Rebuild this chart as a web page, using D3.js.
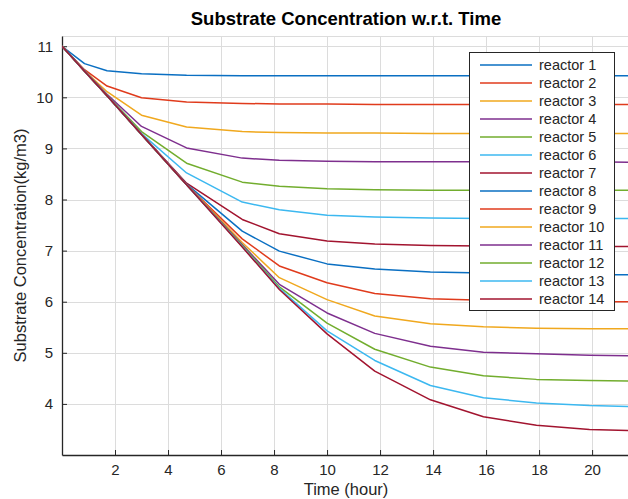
<!DOCTYPE html>
<html>
<head>
<meta charset="utf-8">
<script src="https://d3js.org/d3.v7.min.js"></script>
<style>
    body { margin: 0; background: #ffffff; }
    svg { display: block; font-family: "Liberation Sans", Arial, sans-serif; }
</style>
</head>
<body>
<script>
/**
 * Substrate concentration of 14 reactors over time, drawn as line chart.
 */

// time points (hour)
let times = [0, 0.85, 1.7, 3.0, 4.7, 6.8, 8.2, 10, 11.8, 13.9, 15.9, 17.9, 19.9, 21.43];

// substrate concentration (kg/m3) per reactor
let reactor1  = [11, 10.66, 10.52, 10.46, 10.43, 10.42, 10.42, 10.42, 10.42, 10.42, 10.42, 10.42, 10.42, 10.42];
let reactor2  = [11, 10.54, 10.22, 9.99, 9.91, 9.88, 9.87, 9.87, 9.86, 9.86, 9.86, 9.86, 9.86, 9.86];
let reactor3  = [11, 10.52, 10.11, 9.65, 9.42, 9.33, 9.31, 9.30, 9.30, 9.29, 9.29, 9.29, 9.29, 9.29];
let reactor4  = [11, 10.52, 10.06, 9.43, 9.01, 8.81, 8.77, 8.75, 8.74, 8.74, 8.74, 8.74, 8.74, 8.73];
let reactor5  = [11, 10.52, 10.04, 9.33, 8.71, 8.34, 8.26, 8.21, 8.19, 8.18, 8.18, 8.18, 8.18, 8.18];
let reactor6  = [11, 10.52, 10.03, 9.29, 8.52, 7.95, 7.80, 7.69, 7.66, 7.64, 7.63, 7.63, 7.63, 7.63];
let reactor7  = [11, 10.52, 10.03, 9.28, 8.32, 7.61, 7.33, 7.19, 7.13, 7.10, 7.09, 7.08, 7.08, 7.08];
let reactor8  = [11, 10.51, 10.03, 9.27, 8.30, 7.38, 6.99, 6.74, 6.64, 6.58, 6.56, 6.54, 6.53, 6.53];
let reactor9  = [11, 10.51, 10.03, 9.27, 8.29, 7.23, 6.70, 6.37, 6.16, 6.06, 6.03, 6.01, 6.00, 6.00];
let reactor10 = [11, 10.51, 10.03, 9.27, 8.29, 7.16, 6.47, 6.04, 5.72, 5.57, 5.51, 5.48, 5.47, 5.47];
let reactor11 = [11, 10.51, 10.03, 9.27, 8.29, 7.12, 6.34, 5.78, 5.38, 5.13, 5.01, 4.98, 4.95, 4.94];
let reactor12 = [11, 10.51, 10.03, 9.27, 8.29, 7.10, 6.29, 5.58, 5.07, 4.72, 4.55, 4.48, 4.46, 4.45];
let reactor13 = [11, 10.51, 10.03, 9.27, 8.29, 7.08, 6.26, 5.43, 4.85, 4.36, 4.12, 4.02, 3.97, 3.95];
let reactor14 = [11, 10.51, 10.03, 9.27, 8.29, 7.07, 6.24, 5.37, 4.64, 4.08, 3.75, 3.58, 3.50, 3.48];

let seriesValues = [reactor1, reactor2, reactor3, reactor4, reactor5, reactor6, reactor7,
                    reactor8, reactor9, reactor10, reactor11, reactor12, reactor13, reactor14];
let seriesNames = seriesValues.map((d, i) => "reactor " + (i + 1));

// axis ticks
let xTicks = [2, 4, 6, 8, 10, 12, 14, 16, 18, 20];
let yTicks = [4, 5, 6, 7, 8, 9, 10, 11];

// MATLAB default line colours, repeated after seven
let colors = ["#0a6fc2", "#e03b1c", "#f0a81e", "#7e2f8e", "#72ad2e", "#3cb8f0", "#a2142f"];


window.onload = function() {
    main();
};


/**
 * Sets dimensions and draws the chart.
 */
function main() {
    let dims = {w: 628, h: 499, left: 62, right: 630, top: 36, bottom: 455};

    let svg = d3.select("body")
                .append("svg")
                .attr("width", dims.w)
                .attr("height", dims.h);

    let x = d3.scaleLinear()
              .domain([0, 21.43])
              .range([dims.left, dims.right]);
    let y = d3.scaleLinear()
              .domain([3, 11.2])
              .range([dims.bottom, dims.top]);

    drawAxes(svg, x, y, dims);
    drawLines(svg, x, y, dims);
    drawLegend(svg);
}


/**
 * Draws grid, axes, tick labels, axis titles and chart title.
 */
function drawAxes(svg, x, y, dims) {
    let grid = svg.append("g").attr("stroke", "#dcdcdc").attr("stroke-width", 1);

    grid.selectAll(".vx")
        .data(xTicks)
        .enter()
        .append("line")
        .attr("x1", d => Math.round(x(d)) + 0.5)
        .attr("x2", d => Math.round(x(d)) + 0.5)
        .attr("y1", dims.top)
        .attr("y2", dims.bottom);

    grid.selectAll(".hy")
        .data(yTicks)
        .enter()
        .append("line")
        .attr("x1", dims.left)
        .attr("x2", dims.right)
        .attr("y1", d => Math.round(y(d)) + 0.5)
        .attr("y2", d => Math.round(y(d)) + 0.5);

    // faint top border
    grid.append("line")
        .attr("x1", dims.left).attr("x2", dims.right)
        .attr("y1", dims.top + 0.5).attr("y2", dims.top + 0.5);

    // bottom axis, ticks pointing inward
    let xAxis = d3.axisBottom(x)
                  .tickValues(xTicks)
                  .tickSizeInner(-5)
                  .tickSizeOuter(0)
                  .tickPadding(9)
                  .tickFormat(d3.format("d"));
    let gx = svg.append("g")
                .attr("transform", "translate(0," + dims.bottom + ")")
                .call(xAxis);

    // left axis, ticks pointing inward
    let yAxis = d3.axisLeft(y)
                  .tickValues(yTicks)
                  .tickSizeInner(-5)
                  .tickSizeOuter(0)
                  .tickPadding(9)
                  .tickFormat(d3.format("d"));
    let gy = svg.append("g")
                .attr("transform", "translate(" + dims.left + ",0)")
                .call(yAxis);

    [gx, gy].forEach(function(g) {
        g.select(".domain").attr("stroke", "#262626").attr("stroke-width", 1.3);
        g.selectAll(".tick line").attr("stroke", "#262626");
        g.selectAll(".tick text")
         .attr("fill", "#262626")
         .style("font-size", "15px")
         .style("font-family", "'Liberation Sans', Arial, sans-serif");
    });

    svg.append("text")
       .attr("x", (dims.left + dims.right) / 2)
       .attr("y", 495)
       .attr("text-anchor", "middle")
       .attr("fill", "#262626")
       .style("font-size", "16.5px")
       .text("Time (hour)");

    svg.append("text")
       .attr("transform", "translate(26," + (dims.top + dims.bottom) / 2 + ") rotate(-90)")
       .attr("text-anchor", "middle")
       .attr("fill", "#262626")
       .style("font-size", "16.5px")
       .text("Substrate Concentration(kg/m3)");

    svg.append("text")
       .attr("x", (dims.left + dims.right) / 2)
       .attr("y", 25)
       .attr("text-anchor", "middle")
       .attr("fill", "#000000")
       .style("font-size", "18.5px")
       .style("font-weight", "bold")
       .text("Substrate Concentration w.r.t. Time");
}


/**
 * Draws one line per reactor.
 */
function drawLines(svg, x, y, dims) {
    svg.append("clipPath")
       .attr("id", "plot-clip")
       .append("rect")
       .attr("x", dims.left)
       .attr("y", dims.top)
       .attr("width", dims.right - dims.left)
       .attr("height", dims.bottom - dims.top);

    let line = d3.line()
                 .x((d, i) => x(times[i]))
                 .y(d => y(d));

    svg.append("g")
       .attr("clip-path", "url(#plot-clip)")
       .selectAll("path")
       .data(seriesValues)
       .enter()
       .append("path")
       .attr("d", line)
       .attr("fill", "none")
       .attr("stroke", (d, i) => colors[i % colors.length])
       .attr("stroke-width", 1.5)
       .attr("stroke-linejoin", "round");
}


/**
 * Draws the boxed legend in the upper right corner.
 */
function drawLegend(svg) {
    let legend = svg.append("g");

    legend.append("rect")
          .attr("x", 469.5)
          .attr("y", 52.5)
          .attr("width", 145)
          .attr("height", 258)
          .attr("fill", "#ffffff")
          .attr("stroke", "#262626")
          .attr("stroke-width", 1);

    let rows = legend.selectAll(".row")
                     .data(seriesNames)
                     .enter()
                     .append("g")
                     .attr("transform", (d, i) => "translate(0," + (65 + i * 18) + ")");

    rows.append("line")
        .attr("x1", 480)
        .attr("x2", 532)
        .attr("stroke", (d, i) => colors[i % colors.length])
        .attr("stroke-width", 1.5);

    rows.append("text")
        .attr("x", 539)
        .attr("y", 5)
        .attr("fill", "#262626")
        .style("font-size", "14.5px")
        .text(d => d);
}
</script>
</body>
</html>
